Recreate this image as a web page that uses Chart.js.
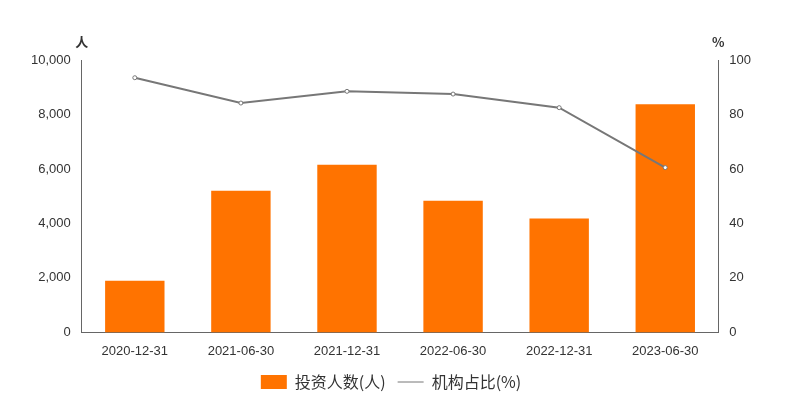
<!DOCTYPE html>
<html><head><meta charset="utf-8">
<script src="https://cdn.jsdelivr.net/npm/chart.js@4/dist/chart.umd.min.js"></script>
<style>body{margin:0;background:#fff}#wrap{width:800px;height:400px}</style>
</head><body><div id="wrap"><canvas id="c"></canvas></div>
<script>
var categorias = ['2020-12-31','2021-06-30','2021-12-31','2022-06-30','2022-12-31','2023-06-30'];
var investores = [1900, 5200, 6150, 4830, 4180, 8380];
var proporcion = [93.5, 84.2, 88.5, 87.5, 82.5, 60.5];

var titulos = {
    id: 'titulos',
    afterDraw: function(chart) {
        var ctx = chart.ctx;
        ctx.save();
        ctx.font = 'bold 13px "Noto Sans CJK SC", sans-serif';
        ctx.fillStyle = '#333';
        ctx.textAlign = 'center';
        ctx.fillText('人', chart.scales.y.right, 42);
        ctx.fillText('%', chart.scales.y1.left, 42);
        ctx.restore();
    }
};

new Chart(document.getElementById('c'), {
    data: {
        labels: categorias,
        datasets: [{
            type: 'line', label: '机构占比(%)', data: proporcion, yAxisID: 'y1',
            borderColor: '#777', borderWidth: 2, backgroundColor: '#fff',
            pointRadius: 2, pointBorderWidth: 1, pointBorderColor: '#777', order: 0
        }, {
            type: 'bar', label: '投资人数(人)', data: investores, yAxisID: 'y',
            backgroundColor: '#ff7300', categoryPercentage: 0.56, barPercentage: 1, order: 1
        }]
    },
    options: {
        responsive: true, maintainAspectRatio: false, animation: false,
        layout: { padding: { top: 60, left: 28, right: 46, bottom: 0 } },
        plugins: {
            legend: {
                position: 'bottom', reverse: true,
                labels: {
                    color: '#333', font: { size: 16, family: '"Noto Sans CJK SC", sans-serif' },
                    usePointStyle: true, pointStyleWidth: 26, boxHeight: 14, padding: 12,
                    generateLabels: function(chart) {
                        var items = Chart.defaults.plugins.legend.labels.generateLabels(chart);
                        items.forEach(function(it) {
                            it.pointStyle = it.datasetIndex === 0 ? 'line' : 'rect';
                        });
                        return items;
                    }
                }
            },
            tooltip: { enabled: false }
        },
        scales: {
            x: {
                grid: { display: false, offset: true },
                border: { color: '#666' },
                ticks: { color: '#333', font: { size: 13 } }
            },
            y: {
                position: 'left', min: 0, max: 10000,
                ticks: { stepSize: 2000, color: '#333', font: { size: 13 },
                    callback: function(v) { return v.toLocaleString('en-US'); } },
                grid: { display: false }, border: { color: '#666' }
            },
            y1: {
                position: 'right', min: 0, max: 100,
                ticks: { stepSize: 20, color: '#333', font: { size: 13 } },
                grid: { display: false }, border: { color: '#666' }
            }
        }
    },
    plugins: [titulos]
});
</script></body></html>
